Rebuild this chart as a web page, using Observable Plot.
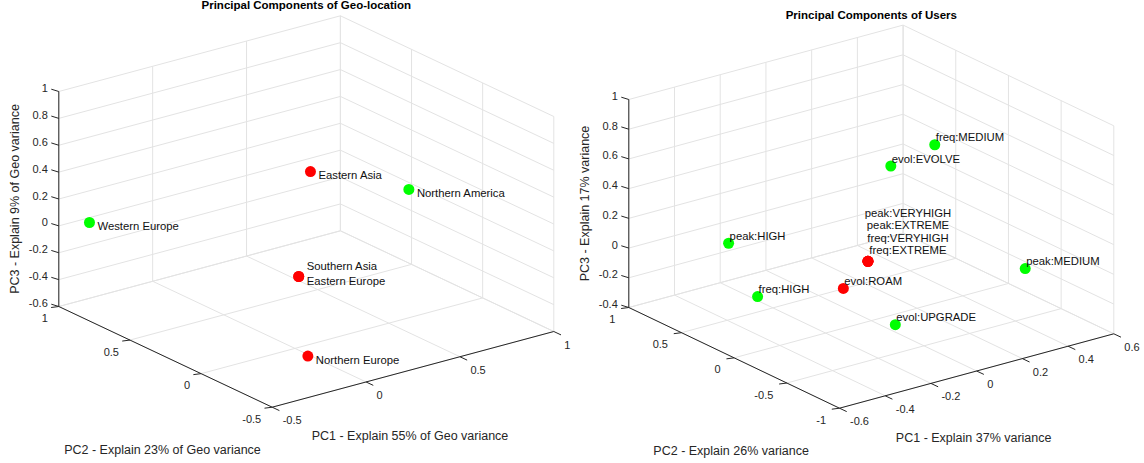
<!DOCTYPE html>
<html><head><meta charset="utf-8">
<script src="https://cdn.jsdelivr.net/npm/d3@7"></script>
<script src="https://cdn.jsdelivr.net/npm/@observablehq/plot@0.6"></script>
<style>
html,body{margin:0;padding:0;background:#fff}
#wrap{display:flex;width:1144px;height:463px;overflow:hidden}
</style>
</head><body><div id="wrap"></div>
<script>
// ---------- Data: Geo-location PCA ----------
const geoNames   = ["Western Europe", "Eastern Asia", "Northern America", "Southern Asia", "Eastern Europe", "Northern Europe"];
const geoPC1     = [-0.42, 0.31, 0.66, 0.24, 0.24, -0.06];
const geoPC2     = [ 0.89, 0.30, 0.07, 0.29, 0.29, -0.17];
const geoPC3     = [ 0.05, 0.45, 0.30, -0.30, -0.30, -0.55];
const geoCluster = [1, 2, 1, 2, 2, 2];
const geoTicksPC1 = [-0.5, 0, 0.5, 1];
const geoTicksPC2 = [-0.5, 0, 0.5, 1];
const geoTicksPC3 = [-0.6, -0.4, -0.2, 0, 0.2, 0.4, 0.6, 0.8, 1];

// ---------- Data: Users PCA ----------
const userNames   = ["freq:MEDIUM", "evol:EVOLVE", "peak:HIGH", "freq:HIGH", "evol:ROAM",
                     "peak:VERYHIGH", "peak:EXTREME", "freq:VERYHIGH", "freq:EXTREME",
                     "peak:MEDIUM", "evol:UPGRADE"];
const userPC1     = [0.25, 0.09, -0.38, -0.35, -0.15, -0.01, -0.01, -0.01, -0.01, 0.30, -0.13];
const userPC2     = [-0.06, 0.01, 0.53, 0.32, -0.06, 0.01, 0.01, 0.01, 0.01, -0.81, -0.51];
const userPC3     = [0.70, 0.60, 0.10, -0.20, -0.10, 0.00, 0.00, 0.00, 0.00, 0.10, -0.20];
const userCluster = [1, 1, 1, 1, 2, 2, 2, 2, 2, 1, 1];
const userTicksPC1 = [-0.6, -0.4, -0.2, 0, 0.2, 0.4, 0.6];
const userTicksPC2 = [-1, -0.5, 0, 0.5, 1];
const userTicksPC3 = [-0.4, -0.2, 0, 0.2, 0.4, 0.6, 0.8, 1];

const FONT = "'Liberation Sans', Arial, Helvetica, sans-serif";
const TXT = "#262626";

function panel(cfg) {
  const W = 572, H = 463;
  const {d1, d2, d3: dz, t1, t2, t3, F, u1, u2, h} = cfg;
  const P = (p1, p2, p3) => {
    const a = (p1 - d1[0]) / (d1[1] - d1[0]);
    const b = (p2 - d2[0]) / (d2[1] - d2[0]);
    const c = (p3 - dz[0]) / (dz[1] - dz[0]);
    return [F[0] + a * u1[0] + b * u2[0], F[1] + a * u1[1] + b * u2[1] - c * h];
  };
  const seg = (p, q) => { const A = P(...p), B = P(...q); return {x1: A[0], y1: A[1], x2: B[0], y2: B[1]}; };
  const [x0, x1] = d1, [y0, y1] = d2, [z0, z1] = dz;
  const grid = [
    ...t1.map(t => seg([t, y0, z0], [t, y1, z0])),
    ...t2.map(t => seg([x0, t, z0], [x1, t, z0])),
    ...t1.map(t => seg([t, y1, z0], [t, y1, z1])),
    ...t3.map(t => seg([x0, y1, t], [x1, y1, t])),
    ...t2.map(t => seg([x1, t, z0], [x1, t, z1])),
    ...t3.map(t => seg([x1, y0, t], [x1, y1, t]))
  ];
  const axes = [seg([x0, y0, z0], [x1, y0, z0]), seg([x0, y0, z0], [x0, y1, z0]), seg([x0, y1, z0], [x0, y1, z1])];
  const tk = (pts, off) => pts.map(p => { const A = P(...p); return {x1: A[0], y1: A[1], x2: A[0] + off[0], y2: A[1] + off[1]}; });
  const ticks = [
    ...tk(t1.map(t => [t, y0, z0]), [7.2, 3.4]),
    ...tk(t2.map(t => [x0, t, z0]), [-7.7, 1.0]),
    ...tk(t3.map(t => [x0, y1, t]), [-7.5, -2.3])
  ];
  const lab = (vals, f) => vals.map(t => { const A = P(...f(t)); return {x: A[0], y: A[1], s: String(t)}; });
  const lab1 = lab(t1, t => [t, y0, z0]);
  const lab2 = lab(t2, t => [x0, t, z0]);
  const lab3 = lab(t3, t => [x0, y1, t]);

  // points
  const rows = cfg.names.map((n, i) => {
    const A = P(cfg.pc1[i], cfg.pc2[i], cfg.pc3[i]);
    return {name: n, x: A[0], y: A[1], cluster: cfg.cluster[i], key: [cfg.pc1[i], cfg.pc2[i], cfg.pc3[i]].join(",")};
  });
  const groups = d3.groups(rows, r => r.key).map(([k, rs]) => ({x: rs[0].x, y: rs[0].y, n: rs.length, label: rs.map(r => r.name).join("\n")}));
  const singles = groups.filter(g => g.n === 1), multis = groups.filter(g => g.n > 1);

  const A1 = P((x0 + x1) / 2, y0, z0), A2 = P(x0, (y0 + y1) / 2, z0), A3 = P(x0, y1, (z0 + z1) / 2);
  const top = P(x1, y1, z1), left = P(x0, y1, z0), right = P(x1, y0, z0);
  const titles = [{x: (left[0] + right[0]) / 2, y: top[1] - 10, s: cfg.title}];
  const axisTitles = [
    {x: A1[0] - 3, y: A1[1] + 67, s: cfg.lab1},
    {x: A2[0] - 3, y: A2[1] + 93, s: cfg.lab2}
  ];
  const zTitle = [{x: A3[0] - 44, y: A3[1], s: cfg.lab3}];

  const L = cfg.labels;
  return Plot.plot({
    width: W, height: H, margin: 0,
    style: {fontFamily: FONT, fontSize: "11px", background: "#fff", overflow: "visible"},
    x: {type: "linear", domain: [0, W], range: [0, W], axis: null},
    y: {type: "linear", domain: [0, H], range: [0, H], axis: null},
    color: {type: "ordinal", domain: [1, 2], range: ["#00ff00", "#ff0000"]},
    marks: [
      Plot.link(grid, {x1: "x1", y1: "y1", x2: "x2", y2: "y2", stroke: "#e3e3e3", strokeWidth: 1}),
      Plot.link(axes, {x1: "x1", y1: "y1", x2: "x2", y2: "y2", stroke: "#262626", strokeWidth: 1}),
      Plot.link(ticks, {x1: "x1", y1: "y1", x2: "x2", y2: "y2", stroke: "#262626", strokeWidth: 1}),
      Plot.text(lab1, {x: "x", y: "y", text: "s", textAnchor: "start", dx: 10.5, dy: 13.5, fill: TXT, fontSize: 11}),
      Plot.text(lab2, {x: "x", y: "y", text: "s", textAnchor: "end", dx: cfg.lab2dx, dy: 12, fill: TXT, fontSize: 11}),
      Plot.text(lab3, {x: "x", y: "y", text: "s", textAnchor: "end", dx: -11, dy: -3, fill: TXT, fontSize: 11}),
      Plot.text(axisTitles, {x: "x", y: "y", text: "s", fill: TXT, fontSize: 12.5}),
      Plot.text(zTitle, {x: "x", y: "y", text: "s", fill: TXT, fontSize: 12.5, rotate: -90}),
      Plot.text(titles, {x: "x", y: "y", text: "s", fill: "#000", fontSize: 11.5, fontWeight: "bold"}),
      Plot.dot(rows, {x: "x", y: "y", fill: "cluster", r: 5.5, stroke: null}),
      Plot.text(singles, {x: "x", y: "y", text: "label", textAnchor: "start", dx: L.sdx, dy: L.sdy, fill: "#111", fontSize: 11.3}),
      Plot.text(multis, {x: "x", y: "y", text: "label", textAnchor: L.manchor, lineAnchor: L.mline, lineHeight: L.mlh, dx: L.mdx, dy: L.mdy, fill: "#111", fontSize: 11.3})
    ]
  });
}

const left = panel({
  title: "Principal Components of Geo-location",
  lab1: "PC1 - Explain 55% of Geo variance",
  lab2: "PC2 - Explain 23% of Geo variance",
  lab3: "PC3 - Explain 9% of Geo variance",
  d1: [-0.5, 1], d2: [-0.5, 1], d3: [-0.6, 1],
  t1: geoTicksPC1, t2: geoTicksPC2, t3: geoTicksPC3,
  F: [271.7, 406.7], u1: [281.6, -75.7], u2: [-213.4, -100.7], h: 215,
  lab2dx: -11,
  names: geoNames, pc1: geoPC1, pc2: geoPC2, pc3: geoPC3, cluster: geoCluster,
  labels: {sdx: 8, sdy: 4, manchor: "start", mline: "middle", mlh: 1.33, mdx: 8, mdy: -3.5}
});

const right = panel({
  title: "Principal Components of Users",
  lab1: "PC1 - Explain 37% variance",
  lab2: "PC2 - Explain 26% variance",
  lab3: "PC3 - Explain 17% variance",
  d1: [-0.6, 0.6], d2: [-1, 1], d3: [-0.4, 1],
  t1: userTicksPC1, t2: userTicksPC2, t3: userTicksPC3,
  F: [267, 407.7], u1: [274.3, -74.4], u2: [-210.7, -100.7], h: 208,
  lab2dx: -13.5,
  names: userNames, pc1: userPC1, pc2: userPC2, pc3: userPC3, cluster: userCluster,
  labels: {sdx: 1, sdy: -7, manchor: "middle", mline: "bottom", mlh: 1.11, mdx: 40, mdy: -7}
});

document.getElementById("wrap").append(left, right);
</script>
</body></html>
